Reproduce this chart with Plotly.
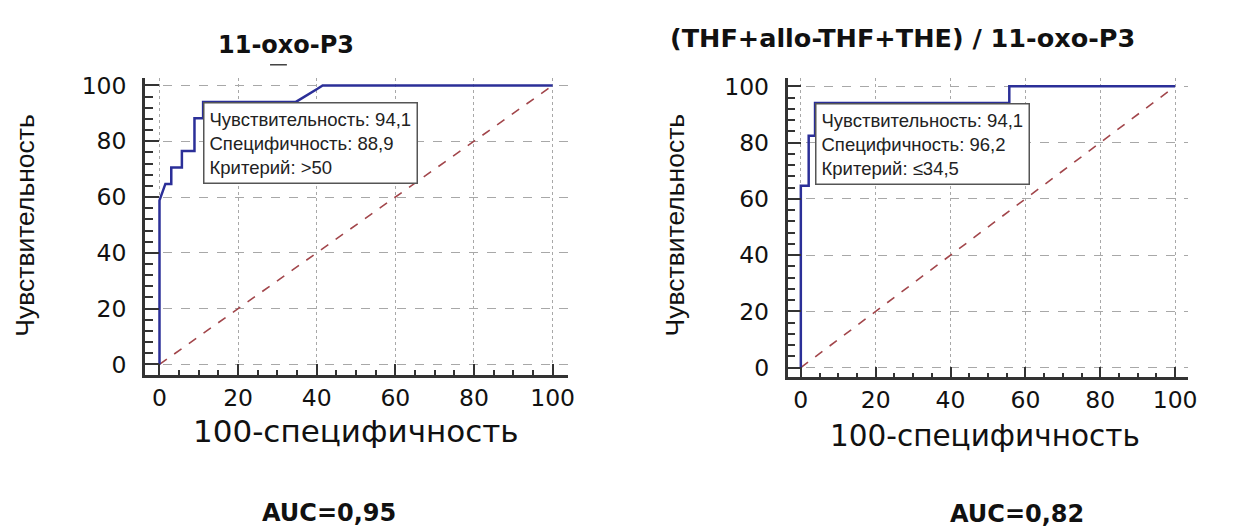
import plotly.graph_objects as go

# ---------------- data ----------------
left_title = "11-oxo-P3"
right_title = "(THF+allo-THF+THE) / 11-oxo-P3"

left_fpr = [0, 0, 1.5, 3.0, 3.0, 5.7, 5.7, 8.9, 8.9, 11.1, 11.1, 34.7, 40.2, 41.5, 100]
left_tpr = [0, 58.8, 64.7, 64.7, 70.6, 70.6, 76.5, 76.5, 88.2, 88.2, 94.1, 94.1, 98.8, 100, 100]

right_fpr = [0, 0, 2.1, 2.1, 3.8, 3.8, 55.7, 55.7, 100]
right_tpr = [0, 64.7, 64.7, 82.4, 82.4, 94.1, 94.1, 100, 100]

diag = [0, 100]

left_point = (11.1, 94.1)
right_point = (3.8, 94.1)
left_box = ["Чувствительность: 94,1", "Специфичность: 88,9", "Критерий: >50"]
right_box = ["Чувствительность: 94,1", "Специфичность: 96,2", "Критерий: ≤34,5"]
left_auc = "AUC=0,95"
right_auc = "AUC=0,82"

x_title = "100-специфичность"
y_title = "Чувствительность"
tick_vals = [0, 20, 40, 60, 80, 100]
tick_text = ["0", "20", "40", "60", "80", "100"]

# ---------------- styles ----------------
W, H = 1239, 529
ROC_COLOR = "#2b2f98"
DIAG_COLOR = "#a2464b"
GRID_COLOR = "#a8a8a8"
AXIS_COLOR = "#333333"
TICK_FONT = dict(family="DejaVu Sans", size=23.5, color="#111111")


def px(x):
    return x / W


def py(y):
    return 1 - y / H


fig = go.Figure()

fig.add_trace(go.Scatter(x=diag, y=diag, mode="lines", xaxis="x", yaxis="y",
                         line=dict(color=DIAG_COLOR, width=1.6, dash="dash"), hoverinfo="skip"))
fig.add_trace(go.Scatter(x=left_fpr, y=left_tpr, mode="lines", xaxis="x", yaxis="y",
                         line=dict(color=ROC_COLOR, width=2.5)))
fig.add_trace(go.Scatter(x=diag, y=diag, mode="lines", xaxis="x2", yaxis="y2",
                         line=dict(color=DIAG_COLOR, width=1.6, dash="dash"), hoverinfo="skip"))
fig.add_trace(go.Scatter(x=right_fpr, y=right_tpr, mode="lines", xaxis="x2", yaxis="y2",
                         line=dict(color=ROC_COLOR, width=2.5)))


def xaxis_cfg(domain, rng):
    return dict(domain=domain, range=rng, tickmode="array", tickvals=tick_vals, ticktext=tick_text,
                showgrid=True, gridcolor=GRID_COLOR, gridwidth=1, griddash="dot", zeroline=False,
                showline=True, linecolor=AXIS_COLOR, linewidth=2.5,
                ticks="inside", ticklen=11, tickwidth=2, tickcolor=AXIS_COLOR,
                minor=dict(dtick=5, tick0=0, ticks="inside", ticklen=5, tickwidth=1.5,
                           tickcolor=AXIS_COLOR, showgrid=False),
                tickfont=TICK_FONT, ticklabelstandoff=0, fixedrange=True)


def yaxis_cfg(domain, rng, anchor):
    return dict(domain=domain, range=rng, anchor=anchor, tickmode="array", tickvals=tick_vals,
                ticktext=tick_text, showgrid=True, gridcolor=GRID_COLOR, gridwidth=1, griddash="dash",
                zeroline=False, showline=True, linecolor=AXIS_COLOR, linewidth=2.5,
                ticks="inside", ticklen=14, tickwidth=2, tickcolor=AXIS_COLOR,
                minor=dict(dtick=4, tick0=0, ticks="inside", ticklen=8, tickwidth=1.5,
                           tickcolor=AXIS_COLOR, showgrid=False),
                tickfont=TICK_FONT, ticklabelstandoff=11, fixedrange=True)


fig.update_layout(
    width=W, height=H, autosize=False,
    margin=dict(l=0, r=0, t=0, b=0),
    paper_bgcolor="white", plot_bgcolor="white",
    showlegend=False,
    xaxis=dict(xaxis_cfg([px(146), px(571.7)], [-3.7, 103.8]), anchor="y"),
    yaxis=yaxis_cfg([py(376), py(73)], [-3.86, 102.5], "x"),
    xaxis2=dict(xaxis_cfg([px(793.3), px(1196.7)], [-3.55, 103.45]), anchor="y2"),
    yaxis2=yaxis_cfg([py(378.3), py(73)], [-3.48, 102.8], "x2"),
)

ann = []
# titles
ann.append(dict(text=left_title, x=px(288), y=py(39), xref="paper", yref="paper", showarrow=False,
                xanchor="center", yanchor="middle",
                font=dict(family="DejaVu Sans", size=24, color="#111111", weight="bold")))
ann.append(dict(text=right_title, x=px(909), y=py(31.5), xref="paper", yref="paper", showarrow=False,
                xanchor="center", yanchor="middle",
                font=dict(family="DejaVu Sans", size=25.5, color="#111111", weight="bold")))
# axis titles
for cx, cy, size in [(358.5, 433, 31), (992.5, 438, 29.5)]:
    ann.append(dict(text=x_title, x=px(cx), y=py(cy), xref="paper", yref="paper", showarrow=False,
                    xanchor="center", yanchor="middle",
                    font=dict(family="DejaVu Sans", size=size, color="#111111")))
for cx, cy in [(25, 222.5), (680, 223)]:
    ann.append(dict(text=y_title, x=px(cx), y=py(cy), xref="paper", yref="paper", showarrow=False,
                    xanchor="center", yanchor="middle", textangle=-90,
                    font=dict(family="Liberation Sans", size=26.5, color="#111111")))
# info boxes
for (bx, by), lines, xr, yr in [(left_point, left_box, "x", "y"), (right_point, right_box, "x2", "y2")]:
    ann.append(dict(text="<br>".join(lines), x=bx, y=by, xref=xr, yref=yr, showarrow=False,
                    xanchor="left", yanchor="top", align="left",
                    bgcolor="white", bordercolor="#555555", borderwidth=1.5, borderpad=5,
                    font=dict(family="Liberation Sans", size=18.5, color="#222222")))
# AUC
for txt, cx, cy in [(left_auc, 331, 517), (right_auc, 1024, 517.5)]:
    ann.append(dict(text=txt, x=px(cx), y=py(cy), xref="paper", yref="paper", showarrow=False,
                    xanchor="center", yanchor="middle",
                    font=dict(family="DejaVu Sans", size=24, color="#111111", weight="bold")))
fig.update_layout(annotations=ann)

fig.add_shape(type="line", xref="paper", yref="paper", x0=px(272), x1=px(289), y0=py(59), y1=py(59),
              line=dict(color="#444444", width=1.5))

fig.write_html("out.html", config={"displayModeBar": False},
               post_script="document.body.style.margin='0px';document.body.style.overflow='hidden';")
